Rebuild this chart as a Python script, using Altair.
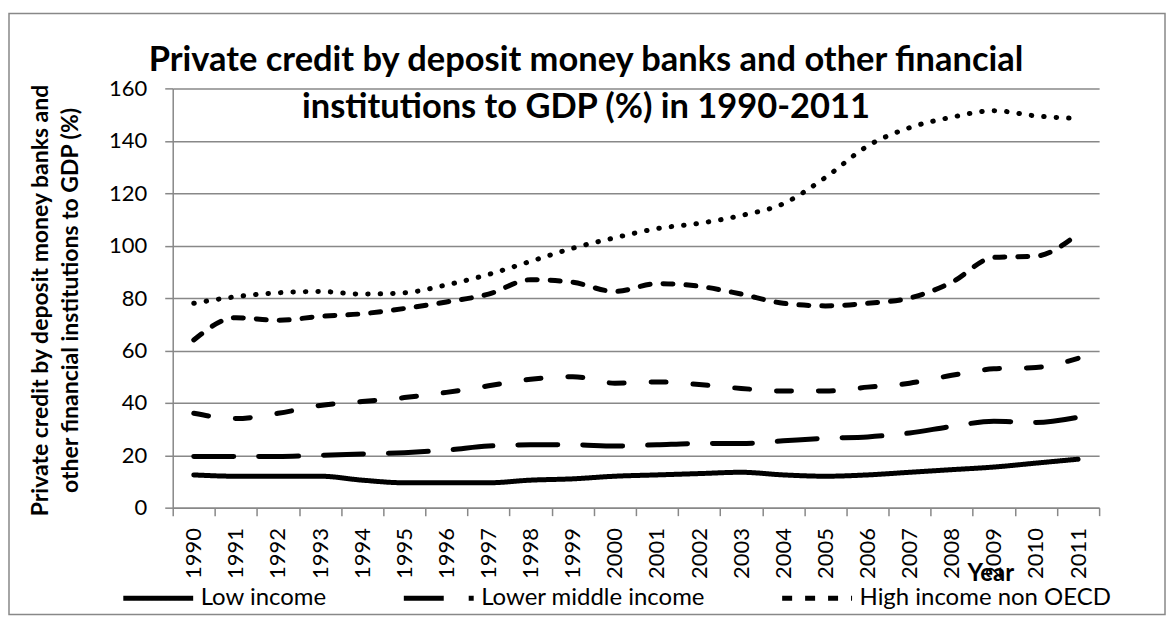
import altair as alt
import pandas as pd

years = ["1990", "1991", "1992", "1993", "1994", "1995", "1996", "1997", "1998", "1999", "2000",
         "2001", "2002", "2003", "2004", "2005", "2006", "2007", "2008", "2009", "2010", "2011"]

low_income = [12.5, 12.0, 12.0, 12.0, 10.5, 9.5, 9.5, 9.5, 10.5, 11.0, 12.0,
              12.5, 13.0, 13.5, 12.5, 12.0, 12.5, 13.5, 14.5, 15.5, 17.0, 18.5]
lower_middle = [19.5, 19.5, 19.5, 20.0, 20.5, 21.0, 22.0, 23.5, 24.0, 24.0, 23.5,
                24.0, 24.5, 24.5, 25.5, 26.5, 27.0, 28.5, 31.0, 33.0, 32.5, 34.5]
upper_middle = [36.0, 34.0, 36.0, 39.0, 40.5, 42.0, 44.0, 46.5, 49.0, 50.0, 47.5,
                48.0, 47.0, 45.5, 44.5, 44.5, 46.0, 47.5, 50.5, 53.0, 53.5, 57.0]
high_non_oecd = [64.0, 72.5, 71.5, 73.0, 74.0, 76.0, 78.5, 81.5, 87.0, 86.0, 82.5,
                 85.5, 84.5, 81.5, 78.0, 77.0, 78.0, 80.0, 86.0, 95.5, 96.0, 104.5]
high_oecd = [78.0, 80.5, 82.0, 82.5, 81.5, 82.0, 85.0, 89.0, 94.0, 99.0, 103.0,
             106.5, 108.5, 111.5, 116.0, 126.0, 138.0, 145.0, 149.0, 151.5, 149.5, 148.5]

series_names = ["Low income", "Lower middle income", "Upper middle income",
                "High income non OECD", "High income OECD"]
series_values = [low_income, lower_middle, upper_middle, high_non_oecd, high_oecd]
legend_names = ["Low income", "Lower middle income", "High income non OECD"]
dash_patterns = [[1, 0], [40, 25], [15, 27], [10, 13], [0.5, 12]]

title_lines = ["Private credit by deposit money banks and other financial",
               "institutions to GDP (%) in 1990-2011"]
y_title_lines = ["Private credit by deposit money banks and",
                 "other financial institutions to GDP (%)"]
y_ticks = [0, 20, 40, 60, 80, 100, 120, 140, 160]

rows = []
for name, vals in zip(series_names, series_values):
    for yr, v in zip(years, vals):
        rows.append({"year": yr, "value": v, "series": name})
df = pd.DataFrame(rows)

GRAY = "#888888"
FONT = "Lato"

lines = alt.Chart(df).mark_line(
    color="black", strokeWidth=5, strokeCap="round", strokeJoin="round", interpolate="monotone"
).encode(
    x=alt.X("year:O", sort=years, bandPosition=0.5,
            scale=alt.Scale(type="band", paddingInner=0, paddingOuter=0),
            axis=alt.Axis(title="Year", titleFont=FONT, titleFontSize=24, titleFontWeight="bold",
                          titleColor="black", titleX=819, titleY=73, titleAlign="center",
                          titleBaseline="alphabetic",
                          labelAngle=270, labelFont=FONT, labelFontSize=22, labelColor="black",
                          labelPadding=12, labelOverlap=False,
                          tickSize=8, tickColor=GRAY, tickWidth=1.5, tickBand="extent",
                          domainColor=GRAY, domainWidth=1.5, grid=False)),
    y=alt.Y("value:Q", scale=alt.Scale(domain=[0, 160], nice=False),
            axis=alt.Axis(values=y_ticks, title=y_title_lines, titleFont=FONT, titleFontSize=23,
                          titleFontWeight="bold", titleColor="black", titleX=-125, titleY=212,
                          titleAngle=270, titleAlign="center", titleBaseline="alphabetic",
                          titleLineHeight=30,
                          labelFont=FONT, labelFontSize=22, labelColor="black", labelPadding=18,
                          tickSize=8, tickColor=GRAY, tickWidth=1.5,
                          domainColor=GRAY, domainWidth=1.5,
                          grid=True, gridColor=GRAY, gridWidth=1.5)),
    strokeDash=alt.StrokeDash("series:N", sort=series_names,
                              scale=alt.Scale(domain=series_names, range=dash_patterns),
                              legend=alt.Legend(values=legend_names, title=None, orient="none",
                                                legendX=-52, legendY=473, direction="horizontal",
                                                columns=3, symbolType="stroke", symbolSize=4900,
                                                symbolStrokeWidth=5, symbolStrokeColor="black",
                                                labelFont=FONT, labelFontSize=24, labelColor="black",
                                                labelLimit=400, labelOffset=5, columnPadding=66)),
)

frame = alt.Chart(pd.DataFrame({"a": [0]})).mark_rect(
    fillOpacity=0, stroke=GRAY, strokeWidth=1.5, strokeOpacity=1
).encode(x=alt.value(-164), x2=alt.value(994), y=alt.value(-75), y2=alt.value(527))

chart = alt.layer(frame, lines).properties(
    width=928, height=420,
    padding={"left": 165, "top": 80, "right": 68, "bottom": 109},
    autosize=alt.AutoSizeParams(type="none"),
    title=alt.TitleParams(text=title_lines, font=FONT, fontSize=34.5, fontWeight="bold",
                          color="black", anchor="middle", baseline="alphabetic",
                          lineHeight=47, offset=0, dx=-50, dy=140),
).configure_view(strokeWidth=0)

chart.save("out.html", embed_options={"renderer": "svg", "actions": False})
